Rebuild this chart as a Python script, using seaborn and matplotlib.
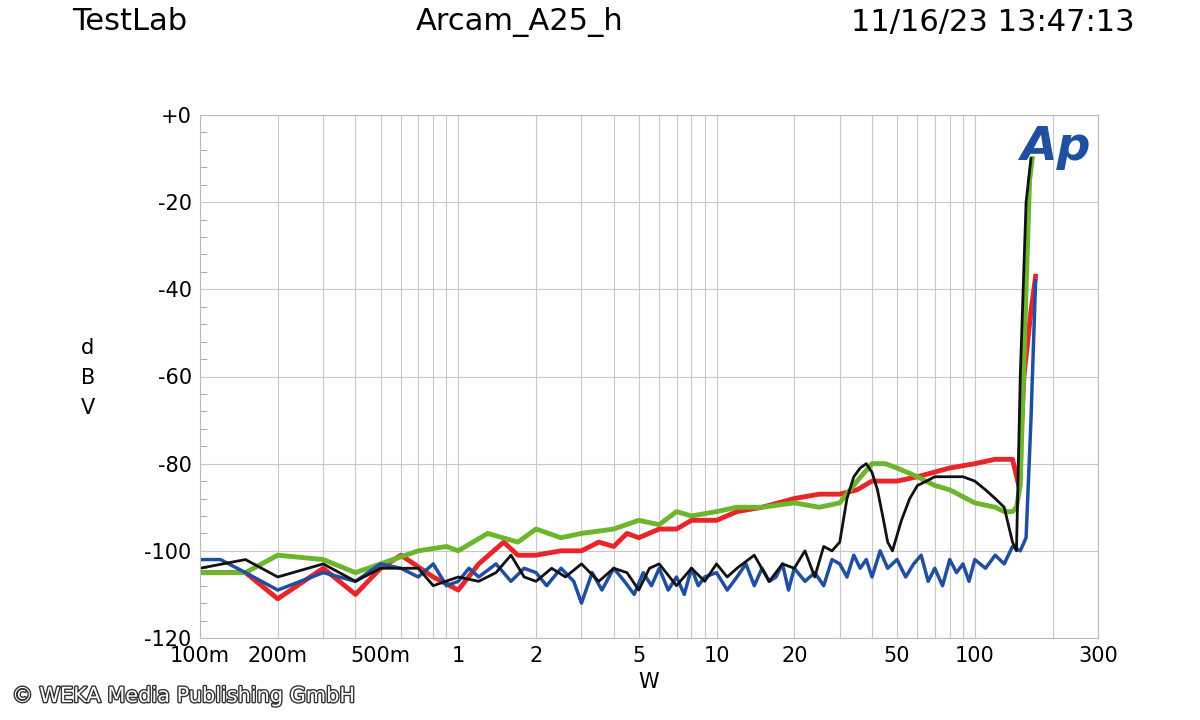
import matplotlib
matplotlib.use("Agg")
import matplotlib.pyplot as plt
import matplotlib.patheffects as pe
import seaborn as sns
import pandas as pd
from matplotlib.ticker import FixedLocator, NullFormatter, MultipleLocator

red_x = [0.1,0.15,0.2,0.3,0.4,0.5,0.6,0.8,1.0,1.2,1.5,1.7,2,2.5,3,3.5,4,4.5,5,6,7,8,10,12,15,20,25,30,35,40,50,60,80,100,120,140,148,155,165,172]
red_y = [-105,-105,-111,-104,-110,-104,-101,-106,-109,-103,-98,-101,-101,-100,-100,-98,-99,-96,-97,-95,-95,-93,-93,-91,-90,-88,-87,-87,-86,-84,-84,-83,-81,-80,-79,-79,-85,-60,-45,-37]

green_x = [0.1,0.15,0.2,0.3,0.4,0.5,0.7,0.9,1.0,1.3,1.7,2,2.5,3,4,5,6,7,8,10,12,15,20,25,30,35,40,45,50,60,70,80,100,120,130,140,145,150,158,163,167]
green_y = [-105,-105,-101,-102,-105,-103,-100,-99,-100,-96,-98,-95,-97,-96,-95,-93,-94,-91,-92,-91,-90,-90,-89,-90,-89,-84,-80,-80,-81,-83,-85,-86,-89,-90,-91,-91,-90,-85,-40,-15,-10]

blue_x = [0.1,0.12,0.15,0.2,0.3,0.4,0.5,0.6,0.7,0.8,0.9,1.0,1.1,1.2,1.4,1.6,1.8,2.0,2.2,2.5,2.8,3.0,3.3,3.6,4.0,4.4,4.8,5.2,5.6,6.0,6.5,7.0,7.5,8.0,8.5,9.0,10,11,12,13,14,15,16,17,18,19,20,22,24,26,28,30,32,34,36,38,40,43,46,50,54,58,62,66,70,75,80,85,90,95,100,110,120,130,140,150,158,165,172]
blue_y = [-102,-102,-105,-109,-105,-107,-103,-104,-106,-103,-108,-107,-104,-106,-103,-107,-104,-105,-108,-104,-107,-112,-105,-109,-104,-107,-110,-105,-108,-104,-109,-106,-110,-104,-108,-106,-105,-109,-106,-103,-108,-104,-107,-106,-103,-109,-104,-107,-105,-108,-102,-103,-106,-101,-104,-102,-106,-100,-104,-102,-106,-103,-101,-107,-104,-108,-102,-105,-103,-107,-102,-104,-101,-103,-99,-100,-97,-70,-38]

black_x = [0.1,0.15,0.2,0.3,0.4,0.5,0.7,0.8,1.0,1.2,1.4,1.6,1.8,2.0,2.3,2.6,3.0,3.5,4.0,4.5,5.0,5.5,6.0,7.0,8.0,9.0,10,11,12,14,16,18,20,22,24,26,28,30,32,34,36,38,40,42,44,46,48,52,56,60,65,70,80,90,100,110,120,130,140,145,150,158,165]
black_y = [-104,-102,-106,-103,-107,-104,-104,-108,-106,-107,-105,-101,-106,-107,-104,-106,-103,-107,-104,-105,-109,-104,-103,-108,-104,-107,-103,-106,-104,-101,-107,-103,-104,-100,-106,-99,-100,-98,-88,-83,-81,-80,-82,-86,-92,-98,-100,-93,-88,-85,-84,-83,-83,-83,-84,-86,-88,-90,-98,-100,-60,-20,-10]

x_ticks = [0.1,0.2,0.5,1,2,5,10,20,50,100,300]
x_labels = ["100m","200m","500m","1","2","5","10","20","50","100","300"]
y_ticks = [-120,-100,-80,-60,-40,-20,0]
y_labels = ["-120","-100","-80","-60","-40","-20","+0"]

series = [("red", red_x, red_y, "#e8262a", 3.5),
          ("green", green_x, green_y, "#6cb52d", 3.5),
          ("blue", blue_x, blue_y, "#1f4fa0", 2.5),
          ("black", black_x, black_y, "#111111", 2.0)]

fig = plt.figure(figsize=(12, 7.2), dpi=100)
ax = fig.add_axes([200/1200, 1-638/720, 898/1200, 523/720])
for name, xs, ys, col, lw in series:
    df = pd.DataFrame({"W": xs, "dBV": ys})
    sns.lineplot(data=df, x="W", y="dBV", ax=ax, color=col, lw=lw, sort=False, estimator=None)

ax.set_xscale("log")
ax.set_xlim(0.1, 300)
ax.set_ylim(-120, 0)
ax.xaxis.set_major_locator(FixedLocator(x_ticks))
ax.set_xticklabels(x_labels)
minor = [m*10**e for e in range(-1,3) for m in range(1,10)]
ax.xaxis.set_minor_locator(FixedLocator([v for v in minor if v <= 300]))
ax.xaxis.set_minor_formatter(NullFormatter())
ax.set_yticks(y_ticks)
ax.set_yticklabels(y_labels)
ax.yaxis.set_minor_locator(MultipleLocator(4))
ax.grid(which="major", color="#c8c8c8", lw=0.8)
ax.grid(which="minor", axis="x", color="#c8c8c8", lw=0.8)
ax.tick_params(axis="both", which="both", labelsize=15, length=0, pad=6)
ax.tick_params(axis="y", which="minor", length=5, color="#999999", left=True, direction="in")
for s in ax.spines.values():
    s.set_color("#bbbbbb")
ax.set_xlabel("W", fontsize=15)
ax.set_ylabel("")
fig.text(88/1200, 1-378/720, "d\nB\nV", fontsize=15, ha="center", va="center", linespacing=1.6)

fig.text(72/1200, 1-22/720, "TestLab", fontsize=22, va="center")
fig.text(520/1200, 1-22/720, "Arcam_A25_h", fontsize=22, va="center", ha="center")
fig.text(1135/1200, 1-22/720, "11/16/23 13:47:13", fontsize=22, va="center", ha="right")
fig.text(1055/1200, 1-148/720, "Ap", fontsize=34, color="#1f4fa0", fontweight="bold", fontstyle="italic", ha="center", va="center")
fig.text(12/1200, 1-696/720, "© WEKA Media Publishing GmbH", fontsize=15, color="white", va="center",
         path_effects=[pe.withStroke(linewidth=2, foreground="#333333")])
fig.savefig("out.png", dpi=100, facecolor="white")
